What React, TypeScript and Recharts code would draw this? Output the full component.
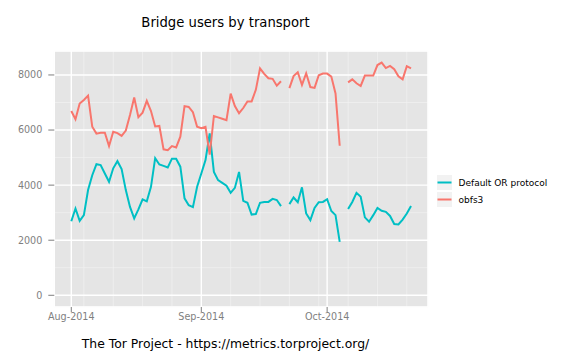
import React from 'react';
import { LineChart, Line, XAxis, YAxis, CartesianGrid, Legend } from 'recharts';

// Day offsets from 2014-08-01 (0 = Aug 1, 81 = Oct 21)
const defaultOR: (number | null)[] = [
  2690, 3150, 2700, 2910, 3820, 4360, 4760, 4730, 4420, 4120,
  4610, 4870, 4580, 3820, 3210, 2790, 3120, 3480, 3410, 3940,
  4980, 4750, 4700, 4640, 4960, 4960, 4670, 3520, 3270, 3200,
  3940, 4420, 4910, 5880, 4480, 4180, 4080, 3980, 3720, 3900,
  4480, 3430, 3360, 2930, 2950, 3360, 3390, 3390, 3500, 3460,
  3240, null, 3310, 3550, 3380, 3920, 2970, 2730, 3170, 3380,
  3390, 3490, 3060, 2910, 1940, null, 3130, 3390, 3720, 3580,
  2830, 2670, 2910, 3170, 3070, 3030, 2880, 2590, 2570, 2750,
  2970, 3240,
];

const obfs3: (number | null)[] = [
  6690, 6390, 6960, 7090, 7250, 6120, 5870, 5900, 5900, 5420,
  5940, 5890, 5790, 5980, 6550, 7180, 6470, 6630, 7060, 6690,
  6130, 6150, 5300, 5270, 5420, 5370, 5760, 6870, 6840, 6650,
  6120, 6070, 6120, 5110, 6510, 6460, 6410, 6360, 7320, 6870,
  6610, 6800, 7040, 7040, 7460, 8240, 8040, 7880, 7860, 7610,
  7770, null, 7520, 7960, 8100, 7640, 8060, 7560, 7530, 7990,
  8050, 8050, 7940, 7330, 5430, null, 7730, 7840, 7700, 7600,
  7980, 7980, 7980, 8360, 8450, 8250, 8330, 8210, 7950, 7840,
  8320, 8240,
];

const xTicks = [0, 31, 61];
const xTickLabels = ['Aug-2014', 'Sep-2014', 'Oct-2014'];
const xMinorTicks = [-4, 3, 10, 17, 24, 38, 45, 52, 59, 66, 73, 80];
const yTicks = [0, 2000, 4000, 6000, 8000];
const yMinorTicks = [1000, 3000, 5000, 7000];

const seriesNames = ['Default OR protocol', 'obfs3'];
const seriesColors = ['#00BFC4', '#F8766D'];

const title = 'Bridge users by transport';
const caption = 'The Tor Project - https://metrics.torproject.org/';

const data = defaultOR.map((v, i) => ({ day: i, defaultOR: v, obfs3: obfs3[i] }));

const FONT = 'DejaVu Sans, Verdana, sans-serif';
const X_DOMAIN: [number, number] = [-4.05, 85.05];
const Y_DOMAIN: [number, number] = [-425, 8870];

const LegendContent = () => (
  <svg width={140} height={36} style={{ display: 'block' }}>
    {seriesNames.map((name, i) => (
      <g key={name} transform={`translate(0, ${i * 17})`}>
        <rect x={0.5} y={0.5} width={16} height={16} fill="#F2F2F2" stroke="#FFFFFF" strokeWidth={1} />
        <line x1={1.5} x2={15.5} y1={8.5} y2={8.5} stroke={seriesColors[i]} strokeWidth={2} />
        <text x={22.5} y={8.5} dy="0.36em" fontSize={9} fontFamily={FONT} fill="#000000">
          {name}
        </text>
      </g>
    ))}
  </svg>
);

export default function App() {
  return (
    <div style={{ position: 'absolute', left: 0, top: 0, width: 576, height: 360, background: '#FFFFFF' }}>
      <LineChart
        width={576}
        height={360}
        data={data}
        margin={{ top: 51, right: 148, bottom: 33, left: 0 }}
        style={{ fontFamily: FONT }}
      >
        <CartesianGrid
          xAxisId="minor"
          yAxisId="minor"
          fill="#E5E5E5"
          stroke="#F2F2F2"
          strokeWidth={0.7}
        />
        <CartesianGrid stroke="#FFFFFF" strokeWidth={1.4} />
        <XAxis
          xAxisId="minor"
          dataKey="day"
          type="number"
          domain={X_DOMAIN}
          ticks={xMinorTicks}
          allowDataOverflow
          hide
        />
        <YAxis yAxisId="minor" type="number" domain={Y_DOMAIN} ticks={yMinorTicks} allowDataOverflow hide />
        <XAxis
          dataKey="day"
          type="number"
          domain={X_DOMAIN}
          ticks={xTicks}
          interval={0}
          allowDataOverflow
          height={20}
          axisLine={false}
          tickSize={5}
          tickMargin={1.5}
          tickLine={{ stroke: '#7F7F7F' }}
          tick={{ fill: '#7F7F7F', fontSize: 9.6, fontFamily: FONT }}
          tickFormatter={(v: number) => xTickLabels[xTicks.indexOf(v)] ?? ''}
        />
        <YAxis
          type="number"
          domain={Y_DOMAIN}
          ticks={yTicks}
          interval={0}
          allowDataOverflow
          width={54.3}
          axisLine={false}
          tickSize={6}
          tickMargin={6}
          tickLine={{ stroke: '#7F7F7F' }}
          tick={{ fill: '#7F7F7F', fontSize: 9.6, fontFamily: FONT }}
        />
        <Line
          type="linear"
          dataKey="defaultOR"
          name={seriesNames[0]}
          stroke={seriesColors[0]}
          strokeWidth={2}
          dot={false}
          activeDot={false}
          connectNulls={false}
          isAnimationActive={false}
        />
        <Line
          type="linear"
          dataKey="obfs3"
          name={seriesNames[1]}
          stroke={seriesColors[1]}
          strokeWidth={2}
          dot={false}
          activeDot={false}
          connectNulls={false}
          isAnimationActive={false}
        />
        <Legend
          layout="horizontal"
          verticalAlign="middle"
          align="center"
          content={() => <LegendContent />}
          wrapperStyle={{ left: 436, top: 174, width: 140, height: 36 }}
        />
      </LineChart>
      <svg
        width={576}
        height={360}
        style={{ position: 'absolute', left: 0, top: 0, pointerEvents: 'none' }}
      >
        <text x={225.5} y={27} textAnchor="middle" fontSize={13.2} fontFamily={FONT} fill="#000000">
          {title}
        </text>
        <text x={225.5} y={348.3} textAnchor="middle" fontSize={12.4} fontFamily={FONT} fill="#000000">
          {caption}
        </text>
      </svg>
    </div>
  );
}
